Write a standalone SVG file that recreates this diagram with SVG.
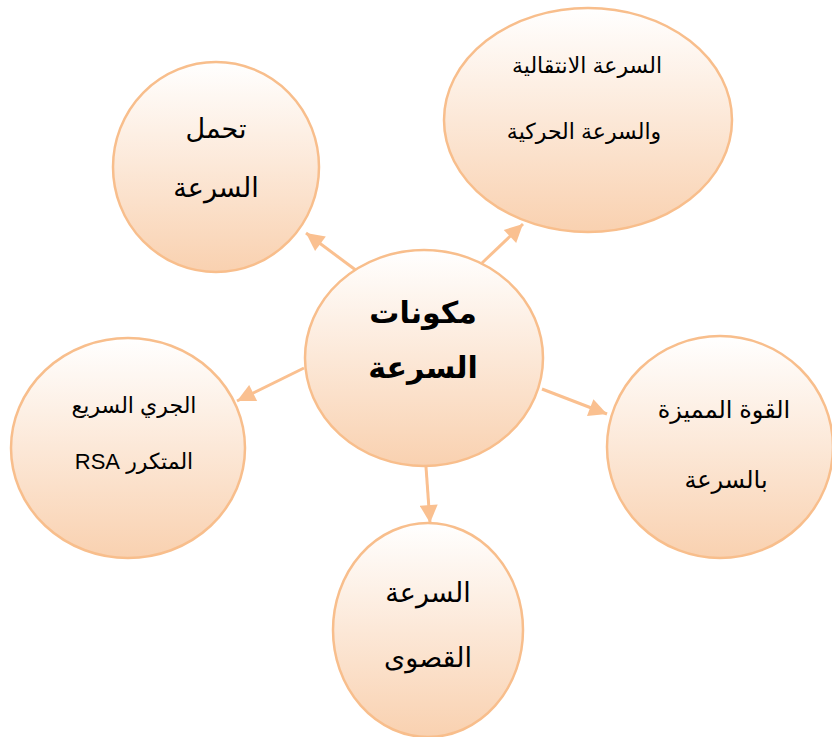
<svg xmlns="http://www.w3.org/2000/svg" width="832" height="737" viewBox="0 0 832 737">
  <defs>
    <linearGradient id="peach" x1="0" y1="0" x2="0" y2="1">
      <stop offset="0" stop-color="#FFFFFF"/>
      <stop offset="1" stop-color="#F9D1B0"/>
    </linearGradient>
    <marker id="head" viewBox="0 0 10 10" refX="10" refY="5" markerUnits="userSpaceOnUse" markerWidth="20" markerHeight="18" orient="auto">
      <path d="M0,0 L10,5 L0,10 Z" fill="#FAC090"/>
    </marker>
  </defs>
  <style>
    .bubble { fill: url(#peach); stroke: #F8BE8C; stroke-width: 2.5; }
    .link { stroke: #FAC090; stroke-width: 3; fill: none; marker-end: url(#head); }
    .lbl { font-family: "Liberation Sans", "DejaVu Sans", Arial, sans-serif; fill: #000; text-anchor: middle; }
    .title { font-size: 30px; font-weight: bold; }
    .big { font-size: 27px; }
    .mid { font-size: 24px; }
    .small { font-size: 22px; }
  </style>

  <rect width="832" height="737" fill="#FFFFFF"/>

  <!-- connectors from the hub to each component -->
  <g id="connectors">
    <line class="link" x1="357" y1="271" x2="306" y2="233"/>
    <line class="link" x1="482" y1="263" x2="523" y2="224"/>
    <line class="link" x1="304" y1="368" x2="237" y2="401"/>
    <line class="link" x1="542" y1="389" x2="607" y2="414"/>
    <line class="link" x1="426" y1="467" x2="430" y2="523"/>
  </g>

  <!-- hub -->
  <g id="hub">
    <ellipse class="bubble" cx="424" cy="358" rx="119" ry="108"/>
    <text class="lbl title" direction="rtl" x="423" y="323">مكونات</text>
    <text class="lbl title" direction="rtl" x="423" y="378">السرعة</text>
  </g>

  <g id="speed-endurance">
    <ellipse class="bubble" cx="216" cy="167" rx="103" ry="105"/>
    <text class="lbl big" direction="rtl" x="216" y="138">تحمل</text>
    <text class="lbl big" direction="rtl" x="216" y="197">السرعة</text>
  </g>

  <g id="transitional-speed">
    <ellipse class="bubble" cx="588" cy="120" rx="144" ry="112"/>
    <text class="lbl small" direction="rtl" x="587" y="73">السرعة الانتقالية</text>
    <text class="lbl small" direction="rtl" x="584" y="139">والسرعة الحركية</text>
  </g>

  <g id="repeated-sprint">
    <ellipse class="bubble" cx="128" cy="448" rx="117" ry="110"/>
    <text class="lbl small" direction="rtl" x="134" y="413">الجري السريع</text>
    <text class="lbl small" direction="rtl" x="134" y="469">المتكرر RSA</text>
  </g>

  <g id="speed-strength">
    <ellipse class="bubble" cx="720" cy="447" rx="113" ry="111"/>
    <text class="lbl mid" direction="rtl" x="724" y="418">القوة المميزة</text>
    <text class="lbl mid" direction="rtl" x="726" y="488">بالسرعة</text>
  </g>

  <g id="max-speed">
    <ellipse class="bubble" cx="428" cy="630" rx="95" ry="107"/>
    <text class="lbl big" direction="rtl" x="428" y="602">السرعة</text>
    <text class="lbl big" direction="rtl" x="428" y="667">القصوى</text>
  </g>
</svg>
